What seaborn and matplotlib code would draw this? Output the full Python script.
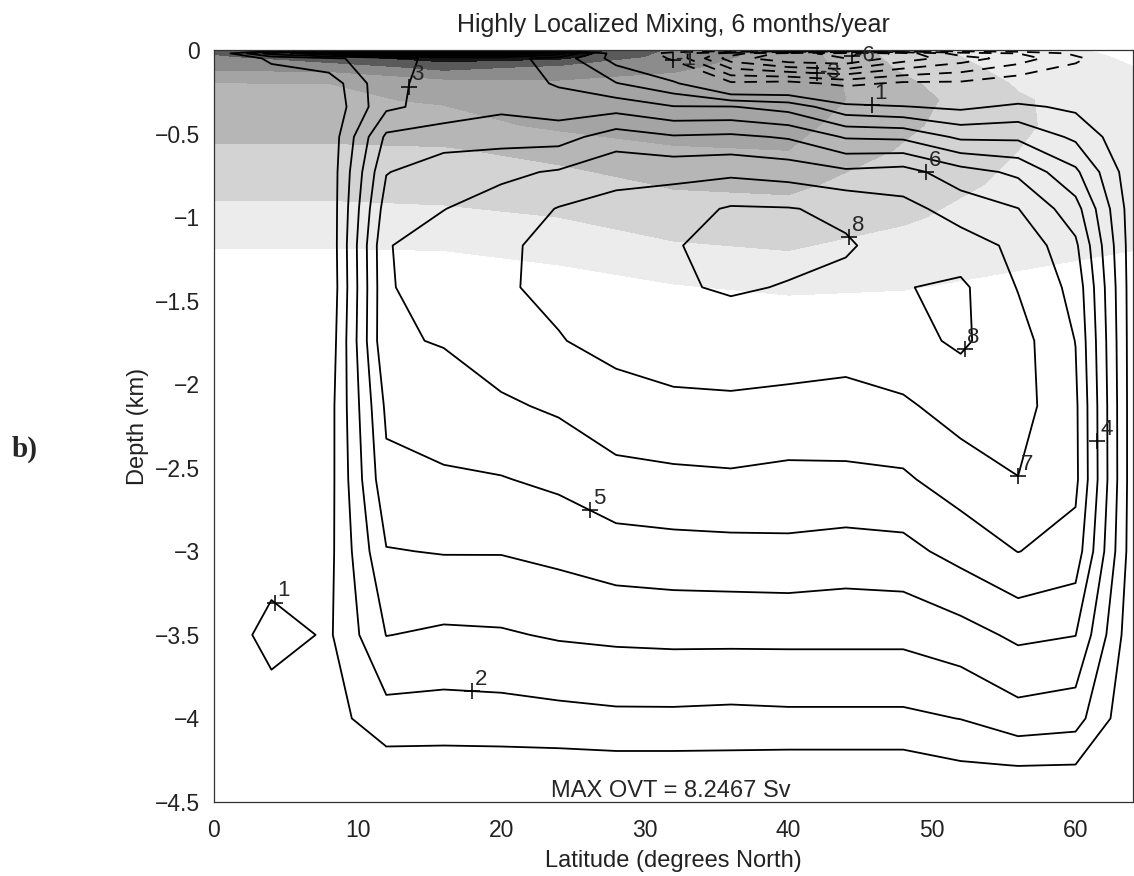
"""Meridional overturning streamfunction with a grey background field (panel b)."""

import matplotlib
matplotlib.use("Agg")
import matplotlib.pyplot as plt
import numpy as np
import seaborn as sns


# streamfunction grid (Sv): one list per latitude column, depth from top to bottom
LAT = [0, 4, 8, 12, 16, 20, 24, 28, 32, 36, 40, 44, 48, 52, 56, 60, 64]
DEPTH = [0.0, -0.02, -0.05, -0.2, -0.34, -0.52, -0.73, -0.95, -1.17, -1.42,
         -1.74, -2.13, -2.57, -3.0, -3.5, -4.0, -4.28, -4.5]

PSI_00 = [0, 0, 0, 0, 0, 0, 0, 0, 0, 0, 0, 0, 0, 0, 0, 0, 0, 0]
PSI_04 = [0, 3.5, 1.2, 0.3, 0.15, 0.1, 0.1, 0.1, 0.1, 0.1, 0.1, 0.15, 0.2, 0.3, 1.5, 0.3, 0.05, 0]
PSI_08 = [0, 5.0, 1.8, 0.4, 0.2, 0.3, 0.3, 0.25, 0.2, 0.15, 0.3, 0.55, 0.6, 0.7, 0.85, 0.6, 0.1, 0]
PSI_12 = [0, 6.0, 2.5, 2.8, 2.8, 4.2, 4.95, 5.5, 5.95, 5.9, 5.9, 5.2, 4.75, 3.95, 3.02, 1.6, 0.6, 0]
PSI_16 = [0, 6.5, 3.4, 3.3, 3.4, 4.5, 5.6, 5.98, 6.4, 6.5, 6.05, 5.6, 4.85, 4.05, 2.85, 1.55, 0.6, 0]
PSI_20 = [0, 6.5, 3.4, 3.5, 3.8, 4.6, 5.8, 6.4, 6.85, 6.9, 6.55, 5.85, 4.95, 4.05, 2.9, 1.6, 0.6, 0]
PSI_24 = [0, 4.5, 2.6, 2.9, 3.5, 4.6, 6.1, 7.05, 7.25, 7.2, 6.95, 6.15, 5.2, 4.25, 3.1, 1.7, 0.6, 0]
PSI_28 = [0, 0.3, 0.6, 2.05, 3.6, 5.5, 6.7, 7.3, 7.5, 7.5, 7.3, 6.6, 5.7, 4.55, 3.2, 1.8, 0.65, 0]
PSI_32 = [0, -1.5, -1.2, 1.2, 3.05, 5.1, 6.7, 7.6, 7.95, 7.9, 7.6, 6.75, 5.8, 4.65, 3.25, 1.8, 0.65, 0]
PSI_36 = [0, -3.5, -4.5, -0.8, 3.05, 5.2, 6.8, 8.1, 8.25, 8.1, 7.5, 6.85, 5.85, 4.7, 3.25, 1.75, 0.65, 0]
PSI_40 = [0, -5.5, -5.8, -0.6, 2.6, 4.9, 6.6, 8.05, 8.25, 7.95, 7.6, 6.7, 5.75, 4.75, 3.25, 1.8, 0.6, 0]
PSI_44 = [0, -6.5, -6.0, -1.3, 1.3, 3.9, 6.2, 7.8, 8.1, 7.75, 7.5, 6.6, 5.8, 4.6, 3.25, 1.8, 0.6, 0]
PSI_48 = [0, -4.5, -4.5, -0.8, 1.05, 3.8, 6.4, 7.3, 7.6, 7.95, 7.7, 6.85, 5.85, 4.7, 3.25, 1.8, 0.6, 0]
PSI_52 = [0, -2.5, -3.5, -0.8, 0.8, 2.8, 5.4, 6.6, 7.4, 8.2, 8.15, 7.4, 6.5, 5.35, 3.6, 2.02, 0.9, 0]
PSI_56 = [0, -2.0, -2.5, -0.3, 1.2, 2.8, 4.8, 6.02, 6.8, 6.95, 7.4, 7.4, 6.98, 6.02, 4.2, 2.6, 1.02, 0]
PSI_60 = [0, -0.8, -1.2, -0.2, 0.8, 1.8, 3.2, 4.4, 5.2, 5.7, 5.98, 6.2, 6.25, 5.6, 4.02, 2.4, 0.98, 0]
PSI_64 = [0, 0, 0, 0, 0, 0.1, 0.3, 0.4, 0.4, 0.4, 0.4, 0.4, 0.4, 0.4, 0.25, 0.1, 0, 0]

# background (shaded) field on a coarser grid
T_LAT = [0, 8, 16, 24, 32, 40, 48, 56, 64]
T_DEPTH = [0.0, -0.04, -0.1, -0.2, -0.3, -0.45, -0.6, -0.8, -1.0, -1.2, -1.4, -1.7, -4.5]
T_00 = [9.4, 8.8, 8.3, 6.95, 6.8, 6.4, 5.85, 5.3, 4.7, 3.95, 3.5, 3.0, 2.0]
T_08 = [10.3, 9.8, 8.4, 7.0, 6.85, 6.4, 5.85, 5.3, 4.7, 3.95, 3.5, 3.0, 2.0]
T_16 = [11.0, 10.6, 9.4, 7.5, 7.1, 6.6, 5.9, 5.35, 4.8, 4.0, 3.5, 3.0, 2.0]
T_24 = [10.8, 10.4, 8.8, 7.8, 7.6, 7.2, 6.3, 5.6, 5.0, 4.3, 3.6, 3.0, 2.0]
T_32 = [8.8, 8.5, 8.1, 7.8, 7.6, 7.4, 6.9, 6.1, 5.5, 4.8, 4.0, 3.2, 2.0]
T_40 = [7.5, 7.6, 7.7, 7.7, 7.6, 7.3, 7.0, 6.2, 5.6, 5.0, 4.2, 3.3, 2.0]
T_48 = [5.5, 5.6, 5.8, 6.2, 6.4, 6.2, 5.9, 5.5, 5.1, 4.7, 4.1, 3.3, 2.0]
T_56 = [4.3, 4.4, 4.6, 4.9, 5.1, 5.1, 5.0, 4.8, 4.6, 4.3, 3.8, 3.2, 2.0]
T_64 = [3.8, 3.9, 4.0, 4.2, 4.4, 4.5, 4.5, 4.4, 4.2, 4.0, 3.6, 3.1, 2.0]

PSI_LEVELS = [-7, -6, -5, -4, -3, -2, -1, 1, 2, 3, 4, 5, 6, 7, 8]
SHADE_LEVELS = [0, 4, 5, 6, 7, 8, 9, 10, 20]
SHADE_COLORS = ["#ffffff", "#ececec", "#d3d3d3", "#b6b6b6", "#a4a4a4",
                "#8c8c8c", "#5a5a5a", "#161616"]

# contour labels (level, approximate spot)
LABEL_LEVELS = [1, 2, 3, 4, 5, 6, 7, 8, 8, 1, -1, -3, -6]
LABEL_LAT = [4.2, 18, 13.6, 61.5, 26.2, 49.8, 56, 45, 52, 45.8, 32, 42, 44.5]
LABEL_DEPTH = [-3.31, -3.82, -0.22, -2.34, -2.75, -0.70, -2.57, -1.06, -1.77, -0.32, -0.05, -0.11, -0.05]

MAX_OVT = 8.2467
TITLE = "Highly Localized Mixing, 6 months/year"


def nearest_on_contour(segments, x, z, sx=14.36, sz=167.0):
    """Closest point (in screen-like units) on the polylines of one contour level."""
    best, best_d = (x, z), np.inf
    target = np.array([x * sx, z * sz])
    for seg in segments:
        pts = np.asarray(seg) * [sx, sz]
        for a, b in zip(pts[:-1], pts[1:]):
            ab = b - a
            t = 0.0 if not ab.any() else np.clip(np.dot(target - a, ab) / np.dot(ab, ab), 0, 1)
            p = a + t * ab
            d = np.hypot(*(p - target))
            if d < best_d:
                best_d, best = d, (p[0] / sx, p[1] / sz)
    return best


def main() -> None:
    sns.set_theme(style="white")
    plt.rcParams["font.family"] = ["Liberation Sans", "DejaVu Sans"]

    psi = np.column_stack([PSI_00, PSI_04, PSI_08, PSI_12, PSI_16, PSI_20, PSI_24, PSI_28, PSI_32,
                           PSI_36, PSI_40, PSI_44, PSI_48, PSI_52, PSI_56, PSI_60, PSI_64])
    temp = np.column_stack([T_00, T_08, T_16, T_24, T_32, T_40, T_48, T_56, T_64])

    fig = plt.figure(figsize=(11.34, 8.76), dpi=100)
    ax = fig.add_axes([0.1887, 0.0845, 0.8104, 0.8584])
    ax.set_facecolor("white")

    ax.contourf(T_LAT, T_DEPTH, temp, levels=SHADE_LEVELS, colors=SHADE_COLORS, zorder=1)
    cs = ax.contour(LAT, DEPTH, psi, levels=PSI_LEVELS, colors="black", linewidths=1.3,
                    negative_linestyles=(0, (7, 5)), zorder=2)

    for level, x, z in zip(LABEL_LEVELS, LABEL_LAT, LABEL_DEPTH):
        px, pz = nearest_on_contour(cs.allsegs[PSI_LEVELS.index(level)], x, z)
        ax.plot(px, pz, marker="+", color="black", markersize=11, markeredgewidth=1.1, zorder=3)
        # labels squeezed against the surface sit beside their marker, not above it
        lift = -7 if pz > -0.15 else 1
        ax.annotate(f"{level:d}", (px, pz), xytext=(2, lift), textcoords="offset points",
                    fontsize=16, ha="left", va="bottom", zorder=3)

    ax.text(23.5, -4.47, f"MAX OVT = {MAX_OVT:.4f} Sv", fontsize=17, ha="left", va="baseline", zorder=4)

    ax.set_xlim(0, 64)
    ax.set_ylim(-4.5, 0)
    ax.set_xticks(range(0, 61, 10))
    ax.set_yticks(np.arange(-4.5, 0.01, 0.5))
    ax.yaxis.set_major_formatter(plt.FuncFormatter(lambda v, _: f"{v:g}".replace("-", "\u2212")))
    ax.tick_params(axis="both", direction="in", length=4, width=0.8, labelsize=16.5, colors="#222222")
    ax.tick_params(axis="x", pad=12)
    ax.tick_params(axis="y", pad=10)
    for spine in ax.spines.values():
        spine.set_color("#333333")
        spine.set_linewidth(0.9)
        spine.set_zorder(5)

    ax.set_title(TITLE, fontsize=18, pad=13, color="#222222")
    ax.set_xlabel("Latitude (degrees North)", fontsize=17, labelpad=6, color="#222222")
    ax.set_ylabel("Depth (km)", fontsize=17, labelpad=4, color="#222222")

    fig.text(25 / 1134, 1 - 449 / 876, "b)", fontfamily=["Liberation Serif", "DejaVu Serif"],
             fontweight="bold", fontsize=21, ha="center", va="center")

    fig.savefig("out.png", dpi=100, facecolor="white")
    plt.close(fig)


if __name__ == "__main__":
    main()
